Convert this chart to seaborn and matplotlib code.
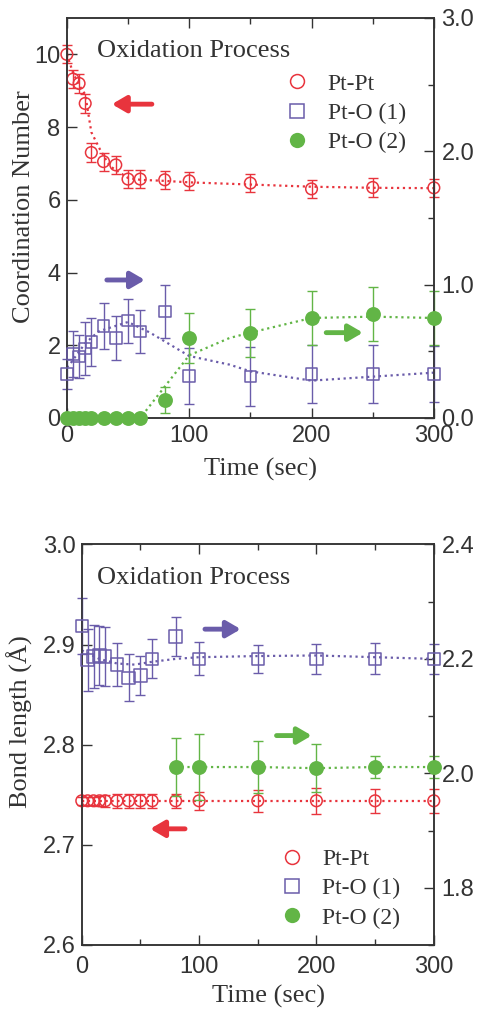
import matplotlib
matplotlib.use("Agg")
import matplotlib.pyplot as plt
import seaborn as sns
from matplotlib.ticker import MultipleLocator, FormatStrFormatter
from matplotlib.lines import Line2D

RED = "#e8343d"
BLUE = "#6a5caa"
GREEN = "#62b546"
INK = "#333333"
SERIF = "Liberation Serif"

# ---- top panel: coordination numbers
t_cn = [0, 5, 10, 15, 20, 30, 40, 50, 60, 80, 100, 150, 200, 250, 300]
cn_ptpt = [10.0, 9.32, 9.2, 8.65, 7.3, 7.05, 6.96, 6.57, 6.57, 6.55, 6.52, 6.46, 6.30, 6.34, 6.33]
cn_ptpt_err = [0.25, 0.25, 0.25, 0.25, 0.25, 0.25, 0.25, 0.25, 0.25, 0.25, 0.25, 0.25, 0.25, 0.25, 0.25]
cn_pto1 = [0.33, 0.48, 0.46, 0.52, 0.57, 0.69, 0.60, 0.73, 0.65, 0.80, 0.315, 0.31, 0.33, 0.33, 0.33]
cn_pto1_err = [0.11, 0.175, 0.16, 0.2, 0.18, 0.17, 0.165, 0.165, 0.16, 0.2, 0.21, 0.22, 0.22, 0.22, 0.21]
cn_pto2 = [0, 0, 0, 0, 0, 0, 0, 0, 0, 0.135, 0.60, 0.64, 0.75, 0.78, 0.75]
cn_pto2_err = [0, 0, 0, 0, 0, 0, 0, 0, 0, 0.10, 0.19, 0.18, 0.2, 0.2, 0.2]

# fitted curves (dotted)
t_fit_ptpt = [0, 5, 10, 15, 20, 27, 35, 50, 60, 80, 100, 150, 200, 250, 300]
fit_ptpt = [10.0, 9.5, 9.15, 8.9, 7.86, 7.39, 6.93, 6.6, 6.55, 6.52, 6.48, 6.42, 6.36, 6.33, 6.32]
t_fit_pto1 = [0, 3, 15, 26, 50, 68, 100, 133, 150, 200, 250, 300]
fit_pto1 = [0.38, 0.41, 0.56, 0.65, 0.72, 0.64, 0.465, 0.40, 0.35, 0.28, 0.31, 0.34]
t_fit_pto2 = [0, 60, 80, 100, 133, 150, 200, 250, 300]
fit_pto2 = [0, 0, 0.235, 0.47, 0.6, 0.64, 0.75, 0.76, 0.75]

# ---- bottom panel: bond lengths
t_bl = [0, 5, 10, 15, 20, 30, 40, 50, 60, 80, 100, 150, 200, 250, 300]
bl_ptpt = [2.744, 2.744, 2.744, 2.744, 2.744, 2.744, 2.744, 2.744, 2.744, 2.744, 2.744, 2.744, 2.744, 2.744, 2.744]
bl_ptpt_err = [0.004, 0.004, 0.004, 0.005, 0.006, 0.007, 0.007, 0.007, 0.007, 0.007, 0.009, 0.011, 0.013, 0.012, 0.012]
bl_pto1 = [2.258, 2.198, 2.204, 2.206, 2.204, 2.19, 2.167, 2.171, 2.2, 2.239, 2.2, 2.2, 2.2, 2.2, 2.2]
bl_pto1_err = [0.049, 0.054, 0.055, 0.052, 0.052, 0.037, 0.041, 0.034, 0.034, 0.034, 0.029, 0.025, 0.026, 0.027, 0.026]
t_bl2 = [80, 100, 150, 200, 250, 300]
bl_pto2 = [2.011, 2.011, 2.011, 2.009, 2.011, 2.011]
bl_pto2_err = [0.05, 0.058, 0.045, 0.042, 0.02, 0.02]

t_fit_bl1 = [0, 15, 30, 45, 60, 80, 100, 150, 200, 250, 300]
fit_bl1 = [2.215, 2.2, 2.192, 2.19, 2.195, 2.2, 2.203, 2.205, 2.206, 2.203, 2.2]

legend_labels = ["Pt-Pt", "Pt-O (1)", "Pt-O (2)"]

sns.set_theme(style="ticks")
plt.rcParams["font.family"] = ["Liberation Sans", "DejaVu Sans"]
plt.rcParams["axes.edgecolor"] = INK
plt.rcParams["axes.linewidth"] = 1.1


def series(ax, t, y, err, color, marker, filled, size, fit_t=None, fit_y=None):
    if fit_t is not None:
        sns.lineplot(x=fit_t, y=fit_y, ax=ax, color=color, linestyle=":", linewidth=1.6, sort=False)
    eb = ax.errorbar(t, y, yerr=err, fmt="none", ecolor=color, elinewidth=1.0, capsize=3.5, capthick=1.0)
    for part in eb.lines[1] + eb.lines[2]:
        part.set_clip_on(False)
    sns.scatterplot(x=t, y=y, ax=ax, marker=marker, s=size, color=color,
                    facecolor=color if filled else "none", edgecolor=color,
                    linewidth=0 if filled else 1.1, zorder=3, clip_on=False)


def style(ax, ax2, xpad):
    for a in (ax, ax2):
        a.tick_params(which="both", direction="in", colors=INK, labelsize=17)
        a.tick_params(which="major", length=7, width=1.0)
        a.tick_params(which="minor", length=4, width=1.0)
    ax.tick_params(axis="x", which="both", top=True, bottom=True, pad=xpad)
    ax.tick_params(axis="y", left=True, right=False, pad=4.5)
    ax2.tick_params(axis="y", which="both", right=True, left=False, pad=5.5)
    ax.xaxis.set_major_locator(MultipleLocator(100))
    ax.xaxis.set_minor_locator(MultipleLocator(50))
    ax.set_xlim(0, 300)
    ax.set_xlabel("Time (sec)", family=SERIF, fontsize=19, color=INK)


def arrow(ax, tail, head, color):
    ax.annotate("", xy=head, xytext=tail,
                arrowprops=dict(arrowstyle="-|>,head_length=0.6,head_width=0.35", color=color,
                                lw=3.5, shrinkA=0, shrinkB=0, mutation_scale=14))


def legend(ax, anchor):
    handles = [
        Line2D([], [], marker="o", ls="none", ms=10, mfc="none", mec=RED, mew=1.1),
        Line2D([], [], marker="s", ls="none", ms=9.5, mfc="none", mec=BLUE, mew=1.1),
        Line2D([], [], marker="o", ls="none", ms=11, mfc=GREEN, mec=GREEN, mew=0),
    ]
    ax.legend(handles, legend_labels, loc="upper left", bbox_to_anchor=anchor, frameon=False,
              prop={"family": SERIF, "size": 17}, labelcolor=INK, handlelength=1.0,
              handletextpad=0.8, borderpad=0, borderaxespad=0, labelspacing=0.32)


fig = plt.figure(figsize=(4.81, 10.16), dpi=100)

# top panel
ax = fig.add_axes([0.139, 0.5886, 0.763, 0.3937])
ax2 = ax.twinx()
series(ax, t_cn, cn_ptpt, cn_ptpt_err, RED, "o", False, 70, t_fit_ptpt, fit_ptpt)
series(ax2, t_cn, cn_pto1, cn_pto1_err, BLUE, "s", False, 70, t_fit_pto1, fit_pto1)
series(ax2, t_cn, cn_pto2, cn_pto2_err, GREEN, "o", True, 115, t_fit_pto2, fit_pto2)
ax.set_ylim(0, 11)
ax2.set_ylim(0, 3)
ax.yaxis.set_major_locator(MultipleLocator(2))
ax2.yaxis.set_major_locator(MultipleLocator(1))
ax2.yaxis.set_minor_locator(MultipleLocator(0.5))
ax2.yaxis.set_major_formatter(FormatStrFormatter("%.1f"))
style(ax, ax2, 5.4)
ax.set_ylabel("Coordination Number", family=SERIF, fontsize=19, color=INK)
ax.yaxis.set_label_coords(-0.088, 0.528)
ax.xaxis.set_label_coords(0.527, -0.1)
ax.text(0.082, 0.9025, "Oxidation Process", transform=ax.transAxes, family=SERIF,
        fontsize=19, color=INK, va="baseline")
arrow(ax, (69.5, 8.63), (36.8, 8.63), RED)
arrow(ax2, (32.7, 1.035), (63.8, 1.035), BLUE)
arrow(ax2, (212, 0.64), (242, 0.64), GREEN)
legend(ax2, (0.595, 0.862))

# bottom panel
bx = fig.add_axes([0.170, 0.0699, 0.7318, 0.3942])
bx2 = bx.twinx()
series(bx, t_bl, bl_ptpt, bl_ptpt_err, RED, "o", False, 70, t_bl, bl_ptpt)
series(bx2, t_bl, bl_pto1, bl_pto1_err, BLUE, "s", False, 80, t_fit_bl1, fit_bl1)
series(bx2, t_bl2, bl_pto2, bl_pto2_err, GREEN, "o", True, 115, t_bl2, bl_pto2)
bx.set_ylim(2.6, 3.0)
bx2.set_ylim(1.7, 2.4)
bx.yaxis.set_major_locator(MultipleLocator(0.1))
bx.yaxis.set_major_formatter(FormatStrFormatter("%.1f"))
bx2.yaxis.set_major_locator(MultipleLocator(0.2))
bx2.yaxis.set_minor_locator(MultipleLocator(0.1))
bx2.yaxis.set_major_formatter(FormatStrFormatter("%.1f"))
style(bx, bx2, 7.8)
bx.set_ylabel("Bond length (Å)", family=SERIF, fontsize=19, color=INK)
bx.yaxis.set_label_coords(-0.138, 0.557)
bx.xaxis.set_label_coords(0.531, -0.1)
bx.text(0.043, 0.9014, "Oxidation Process", transform=bx.transAxes, family=SERIF,
        fontsize=19, color=INK, va="baseline")
arrow(bx2, (105, 2.252), (135.5, 2.252), BLUE)
arrow(bx2, (166, 2.066), (196, 2.066), GREEN)
arrow(bx, (88, 2.716), (58.3, 2.716), RED)
legend(bx2, (0.563, 0.24))

fig.savefig("out.png", dpi=100)
